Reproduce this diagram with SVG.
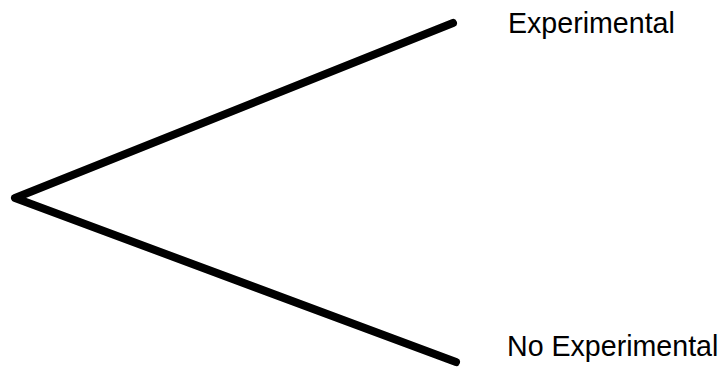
<svg xmlns="http://www.w3.org/2000/svg" width="726" height="375" viewBox="0 0 726 375">
<style>
.edge{stroke:#000;stroke-width:8;stroke-linecap:round;stroke-linejoin:round;fill:none}
.lbl{font-family:"Liberation Sans",Arial,sans-serif;font-size:28.6px;fill:#000}
</style>
<rect width="726" height="375" fill="#fff"/>
<g id="connectors">
<path class="edge" d="M453,23 L15,198 L456,362"/>
</g>
<g id="node-experimental"><text class="lbl" x="508" y="33">Experimental</text></g>
<g id="node-no-experimental"><text class="lbl" x="507" y="356">No Experimental</text></g>
</svg>
